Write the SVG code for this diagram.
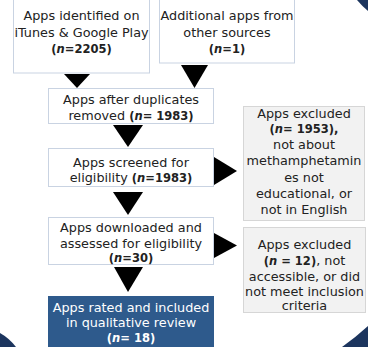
<svg xmlns="http://www.w3.org/2000/svg" width="368" height="347" viewBox="0 0 368 347">
<style>
text{font-family:"DejaVu Sans","Liberation Sans",sans-serif;font-size:12.8px;fill:#222;text-anchor:middle}
.b{font-family:"DejaVu Sans Condensed","DejaVu Sans",sans-serif;font-weight:bold;font-stretch:condensed}
.i{font-style:italic}
.box{fill:#fff;stroke:#c9d3e2;stroke-width:1}
.ex{fill:#f2f2f2;stroke:#d6d6d6;stroke-width:1}
.dk{fill:#2e5a8c;stroke:#2e5a8c}
.w{fill:#fff}
.arr{fill:#000}
.deco{fill:#1c355e}
</style>
<rect width="368" height="347" fill="#fff"/>
<g id="decor">
<path class="deco" d="M357,0 Q362,6 368,11 L368,0 Z"/>
<path class="deco" d="M0,333 Q9,338 16,347 L0,347 Z"/>
<path class="deco" d="M342,347 Q356,337 368,326 L368,347 Z"/>
</g>
<g id="connectors">
<polygon class="arr" points="64,74 90,74 77,88"/>
<polygon class="arr" points="181,65 208,65 194.5,88"/>
<polygon class="arr" points="113,125 143,125 128,147"/>
<polygon class="arr" points="113,192 143,192 128,215"/>
<polygon class="arr" points="114,267 143,267 128,292"/>
<polygon class="arr" points="214,157 214,185 237,171"/>
<polygon class="arr" points="214,233 214,258 237,245.5"/>
</g>
<g id="n1">
<rect class="box" x="13.5" y="-2" width="136" height="75"/>
<text x="81.5" y="20">Apps identified on</text>
<text x="81.5" y="36.5">iTunes &amp; Google Play</text>
<text x="81.5" y="53" class="b">(<tspan class="i">n</tspan>=2205)</text>
</g>
<g id="n2">
<rect class="box" x="159.5" y="-2" width="135" height="65"/>
<text x="227" y="20">Additional apps from</text>
<text x="227" y="36.5">other sources</text>
<text x="227" y="53" class="b">(<tspan class="i">n</tspan>=1)</text>
</g>
<g id="n3">
<rect class="box" x="48.5" y="88.5" width="165" height="35"/>
<text x="131" y="104">Apps after duplicates</text>
<text x="131" y="119.5">removed <tspan class="b">(<tspan class="i">n</tspan>= 1983)</tspan></text>
</g>
<g id="n4">
<rect class="box" x="48.5" y="148.5" width="165" height="38"/>
<text x="131" y="167">Apps screened for</text>
<text x="131" y="182">eligibility <tspan class="b">(<tspan class="i">n</tspan>=1983)</tspan></text>
</g>
<g id="n5">
<rect class="box" x="48.5" y="217.5" width="165" height="47"/>
<text x="131" y="232">Apps downloaded and</text>
<text x="131" y="247.5">assessed for eligibility</text>
<text x="131" y="262" class="b">(<tspan class="i">n</tspan>=30)</text>
</g>
<g id="n6">
<rect class="dk" x="48.5" y="296.5" width="165" height="55"/>
<text class="w" x="131" y="312">Apps rated and included</text>
<text class="w" x="131" y="327">in qualitative review</text>
<text class="w b" x="131" y="341.5">(<tspan class="i">n</tspan>= 18)</text>
</g>
<g id="n7">
<rect class="ex" x="243.5" y="106.5" width="121" height="114"/>
<text x="304" y="117.5">Apps excluded</text>
<text x="304" y="133" class="b">(<tspan class="i">n</tspan>= 1953),</text>
<text x="304" y="149">not about</text>
<text x="304" y="165">methamphetamin</text>
<text x="304" y="181.5">es not</text>
<text x="304" y="198">educational, or</text>
<text x="304" y="214">not in English</text>
</g>
<g id="n8">
<rect class="ex" x="243.5" y="227.5" width="122" height="85"/>
<text x="304.5" y="249">Apps excluded</text>
<text x="304.5" y="265"><tspan class="b">(<tspan class="i">n</tspan> = 12)</tspan>, not</text>
<text x="304.5" y="280.5">accessible, or did</text>
<text x="304.5" y="295.5">not meet inclusion</text>
<text x="304.5" y="310">criteria</text>
</g>
</svg>
